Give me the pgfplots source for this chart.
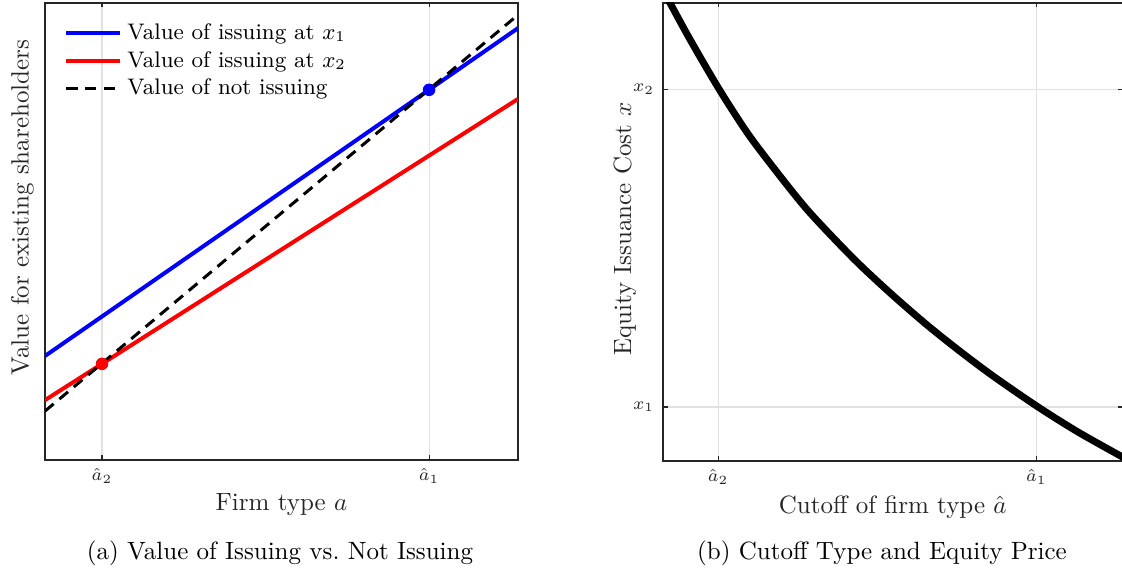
\documentclass[border=0pt]{standalone}
\usepackage{pgfplots}
\pgfplotsset{compat=1.18}
\definecolor{axgray}{RGB}{38,38,38}
\definecolor{gridgray}{RGB}{225,225,225}
\pgfplotsset{
  panel/.style={
    scale only axis,
    anchor=south west,
    xmin=0, xmax=1, ymin=0, ymax=1,
    tick align=inside,
    xtick pos=both, ytick pos=both,
    major tick length=1.8pt,
    axis line style={axgray, line width=0.45pt},
    tick style={axgray, line width=0.45pt},
    grid style={gridgray, line width=0.45pt},
    xmajorgrids,
    every tick label/.append style={font=\scriptsize, text=axgray},
    label style={font=\normalsize, text=axgray},
    clip=true,
  },
}
\begin{document}
\begin{tikzpicture}[x=1pt, y=1pt]
\path[use as bounding box] (0,0) rectangle (448.8,230);

% (a) value of issuing vs. not issuing
\begin{axis}[panel,
  at={(18pt,46pt)}, width=189.2pt, height=182.8pt,
  xtick={0.1205,0.812}, xticklabels={$\hat{a}_2$,$\hat{a}_1$},
  ytick=\empty,
  xlabel={Firm type $a$},
  ylabel={Value for existing shareholders},
  xlabel style={at={(axis description cs:0.5,0)}, anchor=center, yshift=-18pt},
  ylabel style={at={(axis description cs:-0.048,0.5525)}, anchor=center},
  legend style={draw=none, fill=none, font=\small, text=black,
    at={(axis description cs:0.04,0.967)}, anchor=north west,
    inner sep=0pt, row sep=-0.8pt},
  legend cell align=left,
  legend image code/.code={\draw[#1] (0pt,0pt) -- (21.6pt,0pt);},
]
\addplot[blue, line width=1.6pt] coordinates {(0,0.2276) (1,0.945)};
\addlegendentry{Value of issuing at $x_1$}
\addplot[red, line width=1.6pt] coordinates {(0,0.131) (1,0.790)};
\addlegendentry{Value of issuing at $x_2$}
\addplot[black, line width=1.2pt, dash pattern=on 4.5pt off 3pt] coordinates {(0,0.107) (1,0.974)};
\addlegendentry{Value of not issuing}
\addplot[only marks, mark=*, blue, mark size=2.3pt, forget plot] coordinates {(0.812,0.810)};
\addplot[only marks, mark=*, red, mark size=2.3pt, forget plot] coordinates {(0.1205,0.2104)};
\end{axis}

% (b) cutoff type and equity price
\begin{axis}[panel,
  at={(265.2pt,45.6pt)}, width=183.8pt, height=183.2pt,
  xtick={0.1198,0.8126}, xticklabels={$\hat{a}_2$,$\hat{a}_1$},
  ytick={0.118,0.812}, yticklabels={$x_1$,$x_2$},
  ymajorgrids,
  xlabel={Cutoff of firm type $\hat{a}$},
  ylabel={Equity Issuance Cost $x$},
  xlabel style={at={(axis description cs:0.5,0)}, anchor=center, yshift=-18.5pt},
  ylabel style={at={(axis description cs:-0.083,0.507)}, anchor=center},
]
\addplot[black, line width=2.8pt, smooth, tension=0.5] coordinates {
  (0.000,1.028) (0.0153,1.000) (0.0588,0.9204) (0.122,0.812) (0.185,0.7143)
  (0.248,0.6306) (0.310,0.5531) (0.370,0.4879) (0.429,0.4277) (0.500,0.3618)
  (0.575,0.2966) (0.647,0.2390) (0.719,0.1850) (0.815,0.1188) (0.902,0.0640)
  (1.000,0.0087) (1.020,-0.002)
};
\end{axis}

\node[font=\normalsize, text=black] at (112,8.8) {(a) Value of Issuing vs.\ Not Issuing};
\node[font=\normalsize, text=black] at (352.8,8.8) {(b) Cutoff Type and Equity Price};
\end{tikzpicture}
\end{document}
